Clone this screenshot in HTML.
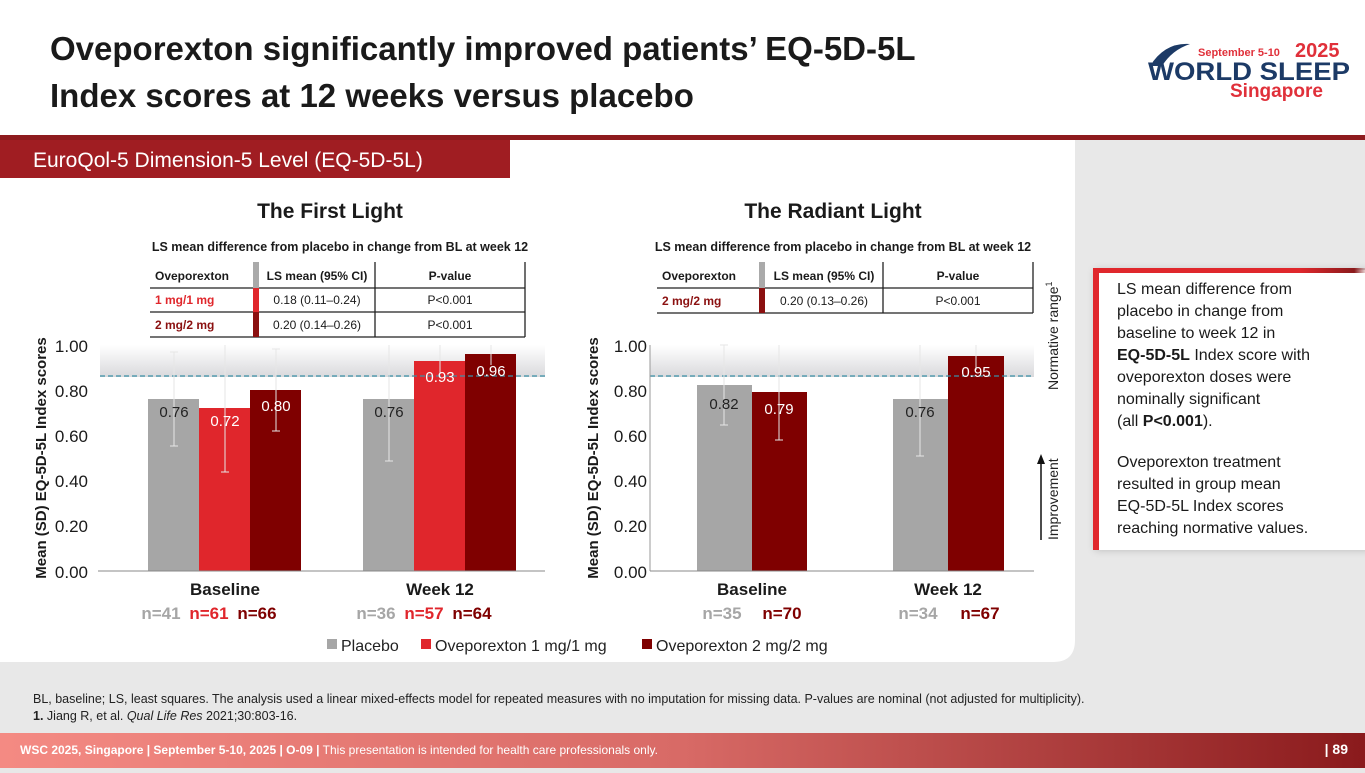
<!DOCTYPE html>
<html><head><meta charset="utf-8"><style>
body{margin:0;width:1365px;height:768px;overflow:hidden;background:#e8e8e8;font-family:"Liberation Sans",sans-serif;}
svg text{font-family:"Liberation Sans",sans-serif;}
</style></head><body>
<svg width="1365" height="768" xmlns="http://www.w3.org/2000/svg">
<defs>
<linearGradient id="band" x1="0" y1="0" x2="0" y2="1"><stop offset="0" stop-color="#fff"/><stop offset="1" stop-color="#d9d9dc"/></linearGradient>
<linearGradient id="foot" x1="0" y1="0" x2="1" y2="0"><stop offset="0" stop-color="#f48a83"/><stop offset="0.5" stop-color="#d86a66"/><stop offset="1" stop-color="#8a1a1c"/></linearGradient>
<linearGradient id="bt" x1="0" y1="0" x2="1" y2="0"><stop offset="0" stop-color="#e0272c"/><stop offset="0.75" stop-color="#e0272c"/><stop offset="0.95" stop-color="#8a1a1c"/><stop offset="1" stop-color="#8a1a1c" stop-opacity="0"/></linearGradient>
</defs>
<rect x="0" y="0" width="1365" height="136" fill="#fff"/>
<rect x="0" y="135" width="1365" height="5" fill="#8e1b1e"/>
<path d="M0 140 H1075 V640 Q1075 662 1053 662 H0 Z" fill="#fff"/>
<text x="50" y="60" font-size="33" font-weight="bold" fill="#1a1a1a">Oveporexton significantly improved patients’ EQ-5D-5L</text>
<text x="50" y="107" font-size="33" font-weight="bold" fill="#1a1a1a">Index scores at 12 weeks versus placebo</text>
<!-- logo -->
<path d="M1150 66 Q1165 42 1190 44 Q1172 50 1162 66 Z" fill="#1c3a66"/>
<text x="1198" y="56" font-size="11" font-weight="bold" fill="#e0303a" font-family="Liberation Serif">September 5-10</text>
<text x="1295" y="57" font-size="20" font-weight="bold" fill="#e0303a" font-family="Liberation Serif">2025</text>
<text x="1148" y="80" font-size="25" font-weight="bold" fill="#1c3a66" textLength="202" lengthAdjust="spacingAndGlyphs">WORLD SLEEP</text>
<text x="1230" y="97" font-size="19" font-weight="bold" fill="#e0303a" font-family="Liberation Serif">Singapore</text>
<!-- tab -->
<rect x="0" y="140" width="510" height="38" fill="#a01d22"/>
<text x="33" y="167" font-size="21" fill="#fff">EuroQol-5 Dimension-5 Level (EQ-5D-5L)</text>

<text x="330" y="218" font-size="21" font-weight="bold" text-anchor="middle" fill="#1a1a1a">The First Light</text>
<text x="833" y="218" font-size="21" font-weight="bold" text-anchor="middle" fill="#1a1a1a">The Radiant Light</text>
<text x="340" y="251" font-size="12.5" font-weight="bold" text-anchor="middle" fill="#1a1a1a">LS mean difference from placebo in change from BL at week 12</text>
<text x="843" y="251" font-size="12.5" font-weight="bold" text-anchor="middle" fill="#1a1a1a">LS mean difference from placebo in change from BL at week 12</text>

<!-- left table -->
<g font-size="12" fill="#1a1a1a" stroke-width="1.3">
<line x1="150" y1="288" x2="525" y2="288" stroke="#222"/><line x1="150" y1="312" x2="525" y2="312" stroke="#222"/><line x1="150" y1="337" x2="525" y2="337" stroke="#222"/>
<line x1="375" y1="262" x2="375" y2="337" stroke="#222"/><line x1="525" y1="262" x2="525" y2="337" stroke="#222"/>
<rect x="253" y="262" width="6" height="26" fill="#aaa"/><rect x="253" y="288" width="6" height="24" fill="#e0272c"/><rect x="253" y="312" width="6" height="25" fill="#8b1010"/>
<text x="155" y="280" font-weight="bold">Oveporexton</text><text x="317" y="280" font-weight="bold" text-anchor="middle">LS mean (95% CI)</text><text x="450" y="280" font-weight="bold" text-anchor="middle">P-value</text>
<text x="155" y="304" font-weight="bold" fill="#e0272c">1 mg/1 mg</text><text x="317" y="304" text-anchor="middle">0.18 (0.11–0.24)</text><text x="450" y="304" text-anchor="middle">P&lt;0.001</text>
<text x="155" y="329" font-weight="bold" fill="#8b1010">2 mg/2 mg</text><text x="317" y="329" text-anchor="middle">0.20 (0.14–0.26)</text><text x="450" y="329" text-anchor="middle">P&lt;0.001</text>
</g>
<!-- right table -->
<g font-size="12" fill="#1a1a1a" stroke-width="1.3">
<line x1="657" y1="288" x2="1033" y2="288" stroke="#222"/><line x1="657" y1="313" x2="1033" y2="313" stroke="#222"/>
<line x1="883" y1="262" x2="883" y2="313" stroke="#222"/><line x1="1033" y1="262" x2="1033" y2="313" stroke="#222"/>
<rect x="759" y="262" width="6" height="26" fill="#aaa"/><rect x="759" y="288" width="6" height="25" fill="#8b1010"/>
<text x="662" y="280" font-weight="bold">Oveporexton</text><text x="824" y="280" font-weight="bold" text-anchor="middle">LS mean (95% CI)</text><text x="958" y="280" font-weight="bold" text-anchor="middle">P-value</text>
<text x="662" y="305" font-weight="bold" fill="#8b1010">2 mg/2 mg</text><text x="824" y="305" text-anchor="middle">0.20 (0.13–0.26)</text><text x="958" y="305" text-anchor="middle">P&lt;0.001</text>
</g>

<!-- left chart -->
<rect x="100" y="345" width="445" height="32" fill="url(#band)"/>
<g font-size="17" fill="#1a1a1a" text-anchor="end">
<text x="88" y="578">0.00</text><text x="88" y="532">0.20</text><text x="88" y="487">0.40</text><text x="88" y="442">0.60</text><text x="88" y="397">0.80</text><text x="88" y="352">1.00</text>
</g>
<text transform="translate(46,458) rotate(-90)" font-size="15" font-weight="bold" text-anchor="middle" fill="#1a1a1a">Mean (SD) EQ-5D-5L Index scores</text>
<rect x="148" y="399" width="51" height="172" fill="#a6a6a6"/>
<rect x="199" y="408" width="51" height="163" fill="#e0262c"/>
<rect x="250" y="390" width="51" height="181" fill="#7f0000"/>
<rect x="363" y="399" width="51" height="172" fill="#a6a6a6"/>
<rect x="414" y="361" width="51" height="210" fill="#e0262c"/>
<rect x="465" y="354" width="51" height="217" fill="#7f0000"/>
<line x1="100" y1="376" x2="545" y2="376" stroke="#3a8fa6" stroke-width="1.3" stroke-dasharray="5,3"/>
<g stroke="#e6e6e6" stroke-width="1">
<line x1="174" y1="352" x2="174" y2="446"/><line x1="170" y1="352" x2="178" y2="352"/><line x1="170" y1="446" x2="178" y2="446"/>
<line x1="225" y1="345" x2="225" y2="472"/><line x1="221" y1="472" x2="229" y2="472"/>
<line x1="276" y1="349" x2="276" y2="431"/><line x1="272" y1="349" x2="280" y2="349"/><line x1="272" y1="431" x2="280" y2="431"/>
<line x1="389" y1="345" x2="389" y2="461"/><line x1="385" y1="461" x2="393" y2="461"/>
<line x1="440" y1="345" x2="440" y2="374"/><line x1="491" y1="345" x2="491" y2="365"/>
</g>
<line x1="98" y1="571" x2="545" y2="571" stroke="#888"/>
<g font-size="15" text-anchor="middle">
<text x="174" y="417" fill="#222">0.76</text><text x="225" y="426" fill="#fff">0.72</text><text x="276" y="411" fill="#fff">0.80</text>
<text x="389" y="417" fill="#222">0.76</text><text x="440" y="382" fill="#fff">0.93</text><text x="491" y="376" fill="#fff">0.96</text>
</g>
<g font-size="17" font-weight="bold" text-anchor="middle">
<text x="225" y="595" fill="#1a1a1a">Baseline</text><text x="440" y="595" fill="#1a1a1a">Week 12</text>
<text x="161" y="619" fill="#a6a6a6">n=41</text><text x="209" y="619" fill="#e0262c">n=61</text><text x="257" y="619" fill="#7f0000">n=66</text>
<text x="376" y="619" fill="#a6a6a6">n=36</text><text x="424" y="619" fill="#e0262c">n=57</text><text x="472" y="619" fill="#7f0000">n=64</text>
</g>

<!-- right chart -->
<rect x="650" y="345" width="384" height="32" fill="url(#band)"/>
<g font-size="17" fill="#1a1a1a" text-anchor="end">
<text x="647" y="578">0.00</text><text x="647" y="532">0.20</text><text x="647" y="487">0.40</text><text x="647" y="442">0.60</text><text x="647" y="397">0.80</text><text x="647" y="352">1.00</text>
</g>
<text transform="translate(598,458) rotate(-90)" font-size="15" font-weight="bold" text-anchor="middle" fill="#1a1a1a">Mean (SD) EQ-5D-5L Index scores</text>
<rect x="697" y="385" width="55" height="186" fill="#a6a6a6"/>
<rect x="752" y="392" width="55" height="179" fill="#7f0000"/>
<rect x="893" y="399" width="55" height="172" fill="#a6a6a6"/>
<rect x="948" y="356" width="56" height="215" fill="#7f0000"/>
<line x1="650" y1="376" x2="1034" y2="376" stroke="#3a8fa6" stroke-width="1.3" stroke-dasharray="5,3"/>
<g stroke="#e6e6e6" stroke-width="1">
<line x1="724" y1="345" x2="724" y2="425"/><line x1="720" y1="345" x2="728" y2="345"/><line x1="720" y1="425" x2="728" y2="425"/>
<line x1="779" y1="345" x2="779" y2="440"/><line x1="775" y1="440" x2="783" y2="440"/>
<line x1="920" y1="345" x2="920" y2="456"/><line x1="916" y1="456" x2="924" y2="456"/>
<line x1="976" y1="345" x2="976" y2="370"/>
</g>
<line x1="650" y1="345" x2="650" y2="571" stroke="#999"/>
<line x1="650" y1="571" x2="1034" y2="571" stroke="#888"/>
<g font-size="15" text-anchor="middle">
<text x="724" y="409" fill="#222">0.82</text><text x="779" y="414" fill="#fff">0.79</text>
<text x="920" y="417" fill="#222">0.76</text><text x="976" y="377" fill="#fff">0.95</text>
</g>
<g font-size="17" font-weight="bold" text-anchor="middle">
<text x="752" y="595" fill="#1a1a1a">Baseline</text><text x="948" y="595" fill="#1a1a1a">Week 12</text>
<text x="722" y="619" fill="#a6a6a6">n=35</text><text x="782" y="619" fill="#7f0000">n=70</text>
<text x="918" y="619" fill="#a6a6a6">n=34</text><text x="980" y="619" fill="#7f0000">n=67</text>
</g>

<!-- legend -->
<g font-size="16" fill="#222">
<rect x="327" y="639" width="10" height="10" fill="#a6a6a6"/><text x="341" y="651">Placebo</text>
<rect x="421" y="639" width="10" height="10" fill="#e0262c"/><text x="435" y="651">Oveporexton 1 mg/1 mg</text>
<rect x="642" y="639" width="10" height="10" fill="#7f0000"/><text x="656" y="651">Oveporexton 2 mg/2 mg</text>
</g>

<!-- normative / improvement -->
<text transform="translate(1058,390) rotate(-90)" font-size="14" fill="#222">Normative range<tspan font-size="9" dy="-6">1</tspan></text>
<line x1="1041" y1="540" x2="1041" y2="462" stroke="#111" stroke-width="1.5"/>
<path d="M1037 464 L1041 454 L1045 464 Z" fill="#111"/>
<text transform="translate(1058,540) rotate(-90)" font-size="14" fill="#222">Improvement</text>

<!-- callout -->
<rect x="1095" y="270" width="275" height="280" fill="#fff" style="filter:drop-shadow(0 0 4px rgba(0,0,0,0.2))"/>
<rect x="1093" y="268" width="275" height="5" fill="url(#bt)"/>
<rect x="1093" y="268" width="6" height="282" fill="#e0272c"/>
<g font-size="16" fill="#1a1a1a">
<text x="1117" y="294">LS mean difference from</text>
<text x="1117" y="316">placebo in change from</text>
<text x="1117" y="338">baseline to week 12 in</text>
<text x="1117" y="360"><tspan font-weight="bold">EQ-5D-5L</tspan> Index score with</text>
<text x="1117" y="382">oveporexton doses were</text>
<text x="1117" y="404">nominally significant</text>
<text x="1117" y="426">(all <tspan font-weight="bold">P&lt;0.001</tspan>).</text>
<text x="1117" y="467">Oveporexton treatment</text>
<text x="1117" y="489">resulted in group mean</text>
<text x="1117" y="511">EQ-5D-5L Index scores</text>
<text x="1117" y="533">reaching normative values.</text>
</g>

<!-- footnotes -->
<text x="33" y="703" font-size="12.5" fill="#222">BL, baseline; LS, least squares. The analysis used a linear mixed-effects model for repeated measures with no imputation for missing data. P-values are nominal (not adjusted for multiplicity).</text>
<text x="33" y="720" font-size="12.5" fill="#222"><tspan font-weight="bold">1.</tspan> Jiang R, et al. <tspan font-style="italic">Qual Life Res</tspan> 2021;30:803-16.</text>
<rect x="0" y="733" width="1365" height="35" fill="url(#foot)"/>
<text x="20" y="754" font-size="12" fill="#fff"><tspan font-weight="bold">WSC 2025, Singapore  |  September 5-10, 2025  |  O-09  |</tspan> This presentation is intended for health care professionals only.</text>
<text x="1348" y="754" font-size="14" font-weight="bold" fill="#fff" text-anchor="end">| 89</text>
</svg>
</body></html>
